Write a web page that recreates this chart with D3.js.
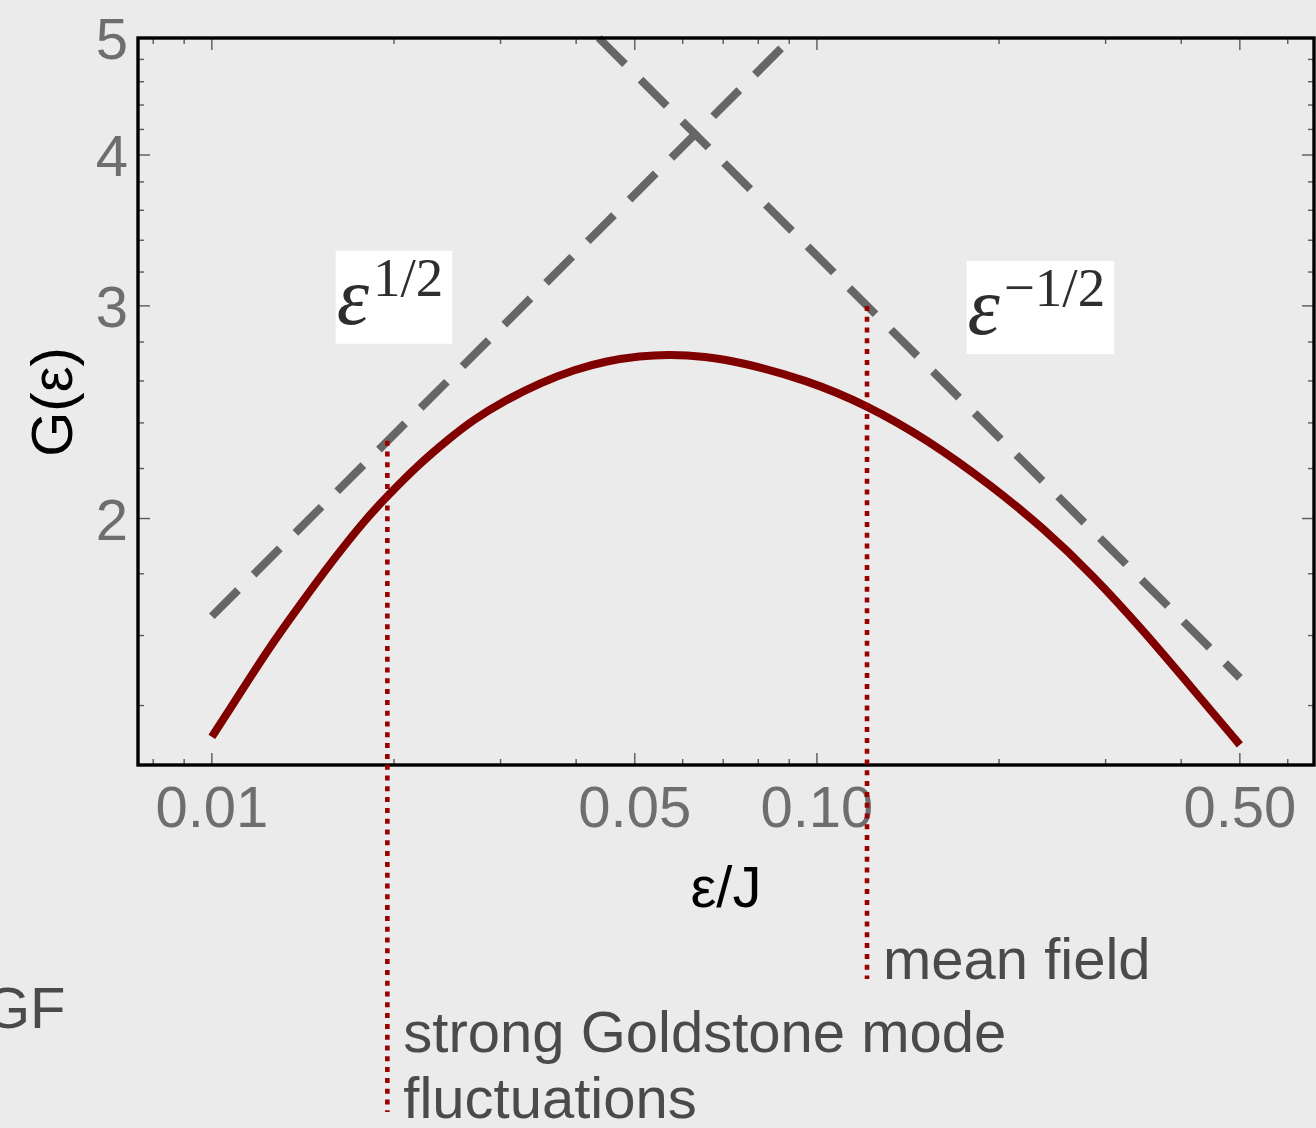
<!DOCTYPE html>
<html>
<head>
<meta charset="utf-8">
<script src="https://cdn.jsdelivr.net/npm/d3@7"></script>
<style>
  html, body { margin: 0; padding: 0; background: #ebebeb; }
  svg { display: block; }
</style>
</head>
<body>
<svg id="chart" width="1316" height="1128"></svg>
<script>
// ---- data -------------------------------------------------------------
// G(ε) along the crossover, ε in units of J
const epsValues = [0.0100, 0.01083, 0.01233, 0.01398, 0.01585, 0.01804, 0.01946, 0.02183,
                   0.02474, 0.02701, 0.03050, 0.03485, 0.03981, 0.04496, 0.05097, 0.05714,
                   0.06528, 0.07458, 0.09625, 0.1209, 0.1519, 0.1954, 0.2363, 0.2858,
                   0.3456, 0.4180, 0.500];
const gValues   = [1.319, 1.402, 1.554, 1.696, 1.848, 2.003, 2.085, 2.211,
                   2.332, 2.413, 2.505, 2.590, 2.658, 2.701, 2.727, 2.735,
                   2.724, 2.696, 2.605, 2.483, 2.327, 2.125, 1.965, 1.795,
                   1.617, 1.445, 1.299];

// power-law asymptotes (straight lines on log-log axes)
const lowAsymEps  = [0.0100, 0.0908];   // ~ ε^{1/2}
const lowAsymG    = [1.66, 5.00];
const highAsymEps = [0.0436, 0.500];    // ~ ε^{-1/2}
const highAsymG   = [5.00, 1.476];

// crossover markers: position and the asymptote value where each starts
const markerEps  = [0.0195, 0.121];
const markerTopG = [2.32, 3.00];
const markerText = [["strong Goldstone mode", "fluctuations"], ["mean field"]];

// axes
const xDomain = [0.00755, 0.663];
const yDomain = [1.25, 5];
const xMajorTicks  = [0.01, 0.05, 0.1, 0.5];
const xTickLabels  = ["0.01", "0.05", "0.10", "0.50"];
const xMinorTicks  = [0.008, 0.009, 0.02, 0.03, 0.04, 0.06, 0.07, 0.08, 0.09, 0.2, 0.3, 0.4, 0.6];
const yMajorTicks  = [2, 3, 4, 5];
const yTickLabels  = ["2", "3", "4", "5"];
const yMinorTicks  = [1.4, 1.6, 1.8, 2.2, 2.4, 2.6, 2.8, 3.2, 3.4, 3.6, 3.8, 4.2, 4.4, 4.6, 4.8];

// power-law labels: exponent text and anchor (ε, G)
const powerLabels = [
  { exp: "1/2",  eps: 0.0200, g: 3.05 },
  { exp: "\u22121/2", eps: 0.234, g: 2.99 }
];

// ---- layout -----------------------------------------------------------
const frame = { left: 138, right: 1314, top: 38, bottom: 765 };
const sans  = "'Liberation Sans', Arial, Helvetica, sans-serif";
const serif = "'Liberation Serif', 'Times New Roman', Times, serif";
const tickFont = 58;

const svg = d3.select("#chart");
svg.append("rect").attr("width", 1316).attr("height", 1128).attr("fill", "#ebebeb");

const x = d3.scaleLog().domain(xDomain).range([frame.left, frame.right]);
const y = d3.scaleLog().domain(yDomain).range([frame.bottom, frame.top]);

const curve = epsValues.map((e, i) => ({ e, g: gValues[i] }));
const lowAsym  = lowAsymEps.map((e, i) => ({ e, g: lowAsymG[i] }));
const highAsym = highAsymEps.map((e, i) => ({ e, g: highAsymG[i] }));

const line = d3.line().x(d => x(d.e)).y(d => y(d.g));

// ---- ticks (all four sides) --------------------------------------------
const tickColor = "#5a5a5a";
function axisTicks(axis, values, size) {
  const g = svg.append("g").attr("stroke", tickColor).attr("stroke-width", 1.4);
  values.forEach(v => {
    if (axis === "x") {
      const px = x(v);
      g.append("line").attr("x1", px).attr("x2", px).attr("y1", frame.bottom).attr("y2", frame.bottom - size);
      g.append("line").attr("x1", px).attr("x2", px).attr("y1", frame.top).attr("y2", frame.top + size);
    } else {
      const py = y(v);
      g.append("line").attr("y1", py).attr("y2", py).attr("x1", frame.left).attr("x2", frame.left + size);
      g.append("line").attr("y1", py).attr("y2", py).attr("x1", frame.right).attr("x2", frame.right - size);
    }
  });
}
axisTicks("x", xMajorTicks, 12);
axisTicks("x", xMinorTicks, 6);
axisTicks("y", yMajorTicks, 12);
axisTicks("y", yMinorTicks, 6);

// tick labels
svg.append("g").selectAll("text").data(xMajorTicks).join("text")
  .attr("x", d => x(d)).attr("y", frame.bottom + 62)
  .attr("text-anchor", "middle")
  .attr("font-family", sans).attr("font-size", tickFont).attr("fill", "#6e6e6e")
  .text((d, i) => xTickLabels[i]);

svg.append("g").selectAll("text").data(yMajorTicks).join("text")
  .attr("x", frame.left - 10).attr("y", d => y(d) + 21)
  .attr("text-anchor", "end")
  .attr("font-family", sans).attr("font-size", tickFont).attr("fill", "#6e6e6e")
  .text((d, i) => yTickLabels[i]);

// axis titles
svg.append("text")
  .attr("x", 726).attr("y", 907)
  .attr("text-anchor", "middle")
  .attr("font-family", sans).attr("font-size", 58).attr("fill", "#000")
  .text("\u03b5/J");

svg.append("text")
  .attr("transform", "translate(72,402) rotate(-90)")
  .attr("text-anchor", "middle")
  .attr("font-family", sans).attr("font-size", 58).attr("fill", "#000")
  .text("G(\u03b5)");

// ---- asymptotes -------------------------------------------------------
[lowAsym, highAsym].forEach(seg => {
  svg.append("path").datum(seg)
    .attr("d", line)
    .attr("fill", "none")
    .attr("stroke", "#666666")
    .attr("stroke-width", 8)
    .attr("stroke-dasharray", "37,22")
    .attr("stroke-linecap", "butt");
});

// ---- crossover curve (B-spline through the sampled values) --------------
svg.append("path").datum(curve)
  .attr("d", d3.line().x(d => x(d.e)).y(d => y(d.g)).curve(d3.curveBasis))
  .attr("fill", "none")
  .attr("stroke", "#800000")
  .attr("stroke-width", 8)
  .attr("stroke-linecap", "butt")
  .attr("stroke-linejoin", "round");

// ---- frame ------------------------------------------------------------
svg.append("rect")
  .attr("x", frame.left).attr("y", frame.top)
  .attr("width", frame.right - frame.left).attr("height", frame.bottom - frame.top)
  .attr("fill", "none").attr("stroke", "#000").attr("stroke-width", 3.4);

// ---- power-law labels in white boxes ------------------------------------
powerLabels.forEach(lab => {
  const g = svg.append("g");
  const box = g.append("rect").attr("fill", "#ffffff");
  const t = g.append("text").attr("font-family", serif).attr("fill", "#2e2e2e");
  t.append("tspan").attr("font-size", 82).attr("font-style", "italic").text("\u03b5");
  t.append("tspan").attr("font-size", 55).attr("dx", 4).attr("dy", -28).text(lab.exp);
  const bb = t.node().getBBox();
  const bx = bb.x - 1, by = bb.y + 4, bw = bb.width + 10, bh = bb.height - 2;
  box.attr("x", bx).attr("y", by).attr("width", bw).attr("height", bh);
  const cx = x(lab.eps), cy = y(lab.g);
  g.attr("transform", `translate(${cx - (bx + bw / 2)},${cy - (by + bh / 2)})`);
});

// ---- crossover markers and their notes ---------------------------------
const noteColor = "#4a4a4a";
const noteFont = 58;
const noteLead = 66;
const noteFirstBaseline = [1052, 979];

markerEps.forEach((e, i) => {
  const px = x(e);
  const lines = markerText[i];
  const lastBaseline = noteFirstBaseline[i] + (lines.length - 1) * noteLead;
  svg.append("line")
    .attr("x1", px).attr("x2", px)
    .attr("y1", y(markerTopG[i]))
    .attr("y2", lines.length > 1 ? lastBaseline - 6 : lastBaseline)
    .attr("stroke", "#9a0000")
    .attr("stroke-width", 4.6)
    .attr("stroke-dasharray", "5,5.8");
  const t = svg.append("text")
    .attr("font-family", sans).attr("font-size", noteFont).attr("fill", noteColor);
  lines.forEach((s, k) => {
    t.append("tspan")
      .attr("x", px + 16)
      .attr("y", noteFirstBaseline[i] + k * noteLead)
      .text(s);
  });
});

// side note at the left edge
svg.append("text")
  .attr("x", -15).attr("y", 1028)
  .attr("font-family", sans).attr("font-size", 58).attr("fill", noteColor)
  .text("GF");
</script>
</body>
</html>
